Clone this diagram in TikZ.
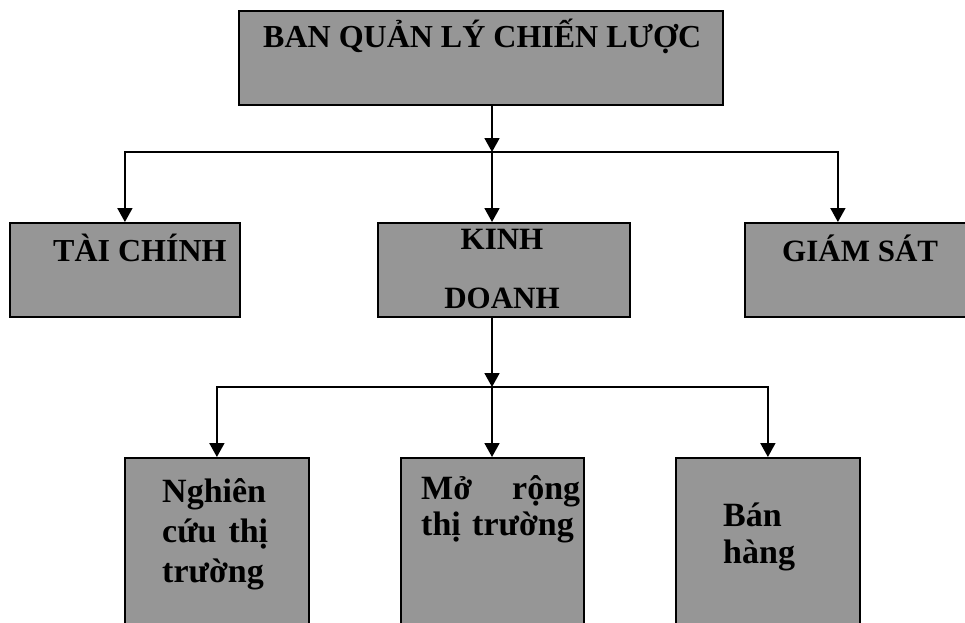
\documentclass[tikz,border=0pt]{standalone}
\usepackage{fontspec}
\setmainfont{Liberation Serif}
\usetikzlibrary{arrows.meta,positioning}
\definecolor{boxgray}{RGB}{150,150,150}

\begin{document}
\begin{tikzpicture}[
    x=1pt, y=-1pt,
    box/.style={draw, line width=1.8pt, fill=boxgray, inner sep=0pt, anchor=north west},
    lbl/.style={inner sep=0pt, anchor=base west, font=\bfseries\fontsize{32}{38}\selectfont},
    sublbl/.style={lbl, align=left, font=\bfseries\fontsize{34}{40}\selectfont},
    arrow/.style={-{Triangle[length=14pt,width=15pt]}, line width=1.8pt}
]
\useasboundingbox (0,0) rectangle (965,622);

% Top level
\node[box, minimum width=484pt, minimum height=94pt] (ban) at (238,10) {};
\node[lbl] (banText) at (263,47) {BAN QUẢN LÝ CHIẾN LƯỢC};

% Second level
\node[box, minimum width=230pt, minimum height=94pt] (tai) at (9,222) {};
\node[box, minimum width=252pt, minimum height=94pt] (kinh) at (377,222) {};
\node[box, minimum width=221pt, minimum height=94pt] (giam) at (744,222) {};

\node[lbl] (taiText) at (53,261) {TÀI CHÍNH};
\node[lbl, anchor=base, align=center, text width=200pt, font=\bfseries\fontsize{31}{59}\selectfont] (kinhText) at (502,249) {KINH\\DOANH};
\node[lbl, font=\bfseries\fontsize{31}{38}\selectfont] (giamText) at (782,261) {GIÁM SÁT};

% Third level
\node[box, minimum width=184pt, minimum height=170pt] (nghien) at (124,457) {};
\node[box, minimum width=183pt, minimum height=170pt] (mo) at (400,457) {};
\node[box, minimum width=184pt, minimum height=170pt] (ban2) at (675,457) {};

\node[sublbl, text width=106pt] (nghienText) at (162,502) {Nghiên\\cứu\hfill thị\\trường};
\node[sublbl, text width=159pt, font=\bfseries\fontsize{34}{36}\selectfont] (moText) at (421,499) {Mở\hfill rộng\\thị trường};
\node[sublbl, text width=100pt, font=\bfseries\fontsize{34}{37}\selectfont] (banText2) at (723,526) {Bán\\hàng};

% Connectors: top -> second level
\coordinate (hubA) at (492,152);
\draw[arrow] (hubA |- ban.south) -- (hubA);
\draw[arrow] (hubA) -| (tai.north);
\draw[arrow] (hubA) -- (hubA |- kinh.north);
\draw[arrow] (hubA) -| ([xshift=-17.5pt]giam.north);

% Connectors: kinh doanh -> third level
\coordinate (hubB) at (492,387);
\draw[arrow] (hubB |- kinh.south) -- (hubB);
\draw[arrow] (hubB) -| (nghien.north);
\draw[arrow] (hubB) -- (hubB |- mo.north);
\draw[arrow] (hubB) -| (ban2.north);

\end{tikzpicture}
\end{document}
